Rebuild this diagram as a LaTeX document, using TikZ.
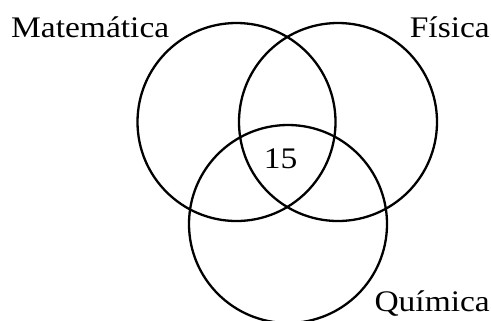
\documentclass[tikz,border=0pt]{standalone}
\usepackage{fontspec}
\setmainfont{Liberation Serif}
\tikzset{
  setc/.style={circle, draw=black, line width=2.3bp, minimum size=198bp, inner sep=0pt},
  lbl/.style={inner sep=0pt, font=\fontsize{30}{33}\selectfont}
}
\begin{document}
\begin{tikzpicture}[x=1bp,y=-1bp]
\useasboundingbox (0,0) rectangle (491,320);
\node[setc] (M) at (236.5,122) {};
\node[setc] (F) at (338,122) {};
\node[setc] (Q) at (288,224) {};
\node[lbl, anchor=base west] (tM) at (11,37) {\scalebox{1.12}[1]{Matemática}};
\node[lbl, anchor=base east] (tF) at (490,37) {\scalebox{1.12}[1]{Física}};
\node[lbl, anchor=base east] (tQ) at (490,311) {\scalebox{1.12}[1]{Química}};
\node[lbl, anchor=base] (n) at (280.5,168) {\scalebox{1.12}[1]{15}};
\end{tikzpicture}
\end{document}
